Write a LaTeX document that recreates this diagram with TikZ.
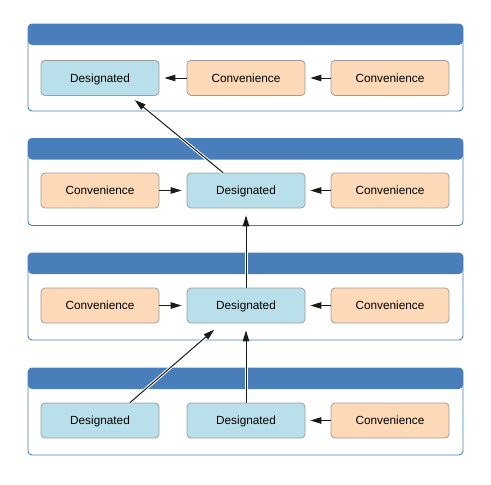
\documentclass[tikz,border=0pt]{standalone}
\usepackage{fontspec}
\setmainfont{Liberation Sans}
\usetikzlibrary{arrows.meta}
\definecolor{hdrblue}{HTML}{4A7EBB}
\definecolor{desfill}{HTML}{B9E0EA}
\definecolor{convfill}{HTML}{FDD9B7}
\definecolor{boxline}{HTML}{9C9C9C}
\definecolor{arrowcol}{HTML}{1A1A1A}
\tikzset{
  box/.style={draw=boxline, line width=0.8pt, rounded corners=4pt, minimum width=118pt, minimum height=35pt, inner sep=0pt, text height=8.5pt, text depth=0pt, font=\fontsize{11.8}{14}\selectfont},
  des/.style={box, fill=desfill},
  conv/.style={box, fill=convfill},
  arr/.style={draw=arrowcol, line width=1pt, -{Triangle[length=11pt,width=6.5pt]}, shorten >=5pt},
  halo/.style={arr, preaction={draw=white, line width=3pt, -{}, shorten >=8pt}},
  panelbox/.style={draw=hdrblue, line width=0.9pt, rounded corners=4pt, minimum width=435pt, minimum height=87pt, inner sep=0pt,
    path picture={\fill[hdrblue] ([yshift=-21pt]path picture bounding box.north west) rectangle (path picture bounding box.north east);}}
}
\begin{document}
\begin{tikzpicture}[x=1pt,y=-1pt]
\useasboundingbox (0,0) rectangle (491,485);
% panels
\node[panelbox] (p1) at (245.5,67.5) {};
\node[panelbox] (p2) at (245.5,182) {};
\node[panelbox] (p3) at (245.5,296.5) {};
\node[panelbox] (p4) at (245.5,411.5) {};
% row 1
\node[des]  (d1)  at (100,78) {Designated};
\node[conv] (c1a) at (246,78) {Convenience};
\node[conv] (c1b) at (390,78) {Convenience};
% row 2
\node[conv] (c2a) at (100,190.5) {Convenience};
\node[des]  (d2)  at (246,190.5) {Designated};
\node[conv] (c2b) at (390,190.5) {Convenience};
% row 3
\node[conv] (c3a) at (100,305.5) {Convenience};
\node[des]  (d3)  at (246,305.5) {Designated};
\node[conv] (c3b) at (390,305.5) {Convenience};
% row 4
\node[des]  (d4a) at (100,420.5) {Designated};
\node[des]  (d4b) at (246,420.5) {Designated};
\node[conv] (c4)  at (390,420.5) {Convenience};
% horizontal arrows
\draw[arr] (c1a.west) -- (d1.east);
\draw[arr] (c1b.west) -- (c1a.east);
\draw[arr] (c2a.east) -- (d2.west);
\draw[arr] (c2b.west) -- (d2.east);
\draw[arr] (c3a.east) -- (d3.west);
\draw[arr] (c3b.west) -- (d3.east);
\draw[arr] (c4.west) -- (d4b.east);
% vertical / diagonal arrows
\draw[halo] ([xshift=-23pt]d2.north) -- ([xshift=31pt,yshift=-1pt]d1.south);
\draw[halo] (d3.north) -- ([yshift=-2pt]d2.south);
\draw[halo] (d4b.north) -- ([yshift=-2pt]d3.south);
\draw[halo] ([xshift=30pt]d4a.north) -- ([xshift=-28pt,yshift=-3pt]d3.south);
\end{tikzpicture}
\end{document}
